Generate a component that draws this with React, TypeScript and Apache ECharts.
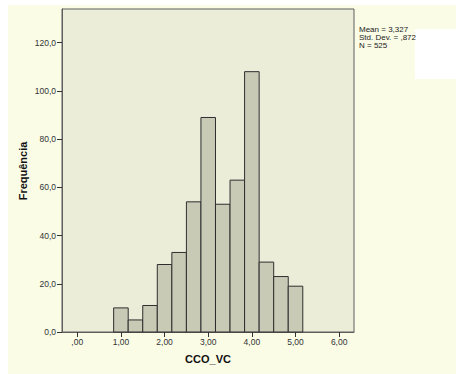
import React, { useEffect, useRef } from "react";
import * as echarts from "echarts";

// Histogram bins (width 1/3): start, end, frequency
const binStarts = [0.8333, 1.1667, 1.5, 1.8333, 2.1667, 2.5, 2.8333, 3.1667, 3.5, 3.8333, 4.1667, 4.5, 4.8333];
const binEnds = [1.1667, 1.5, 1.8333, 2.1667, 2.5, 2.8333, 3.1667, 3.5, 3.8333, 4.1667, 4.5, 4.8333, 5.1667];
const frequencies = [10, 5, 11, 28, 33, 54, 89, 53, 63, 108, 29, 23, 19];

const xTicks = [0, 1, 2, 3, 4, 5, 6];
const yTicks = [0, 20, 40, 60, 80, 100, 120];

const statsLines = ["Mean = 3,327", "Std. Dev. = ,872", "N = 525"];
const xTitle = "CCO_VC";
const yTitle = "Frequência";

const FONT = "'Liberation Sans', Arial, sans-serif";

export default function App() {
  const ref = useRef<HTMLDivElement>(null);

  useEffect(() => {
    if (!ref.current) return;
    const chart = echarts.init(ref.current, null, { renderer: "svg" });
    const data = binStarts.map((s, i) => [s, binEnds[i], frequencies[i]]);
    chart.setOption({
      animation: false,
      backgroundColor: "#FAFCE6",
      grid: {
        left: 62,
        top: 9,
        right: 102,
        bottom: 42,
        show: true,
        backgroundColor: "#EBEDD9",
        borderColor: "#5E5E5E",
        borderWidth: 1,
      },
      xAxis: {
        type: "value",
        min: -0.35,
        max: 6.34,
        splitLine: { show: false },
        axisLine: { show: true, onZero: false, lineStyle: { color: "#5E5E5E", width: 1 } },
        axisTick: {
          show: true,
          customValues: xTicks,
          length: 5,
          inside: false,
          lineStyle: { color: "#333" },
        },
        axisLabel: {
          customValues: xTicks,
          margin: 5,
          fontSize: 8.5,
          fontFamily: FONT,
          color: "#333",
          formatter: (v: number) => (v === 0 ? ",00" : v.toFixed(2).replace(".", ",")),
        },
      },
      yAxis: {
        type: "value",
        min: 0,
        max: 134,
        splitLine: { show: false },
        axisLine: { show: true, onZero: false, lineStyle: { color: "#5E5E5E", width: 1 } },
        axisTick: {
          show: true,
          customValues: yTicks,
          length: 5,
          lineStyle: { color: "#333" },
        },
        axisLabel: {
          customValues: yTicks,
          margin: 6,
          fontSize: 8.5,
          fontFamily: FONT,
          color: "#333",
          formatter: (v: number) => v.toFixed(1).replace(".", ","),
        },
      },
      series: [
        {
          type: "custom",
          data,
          renderItem: (params: any, api: any) => {
            const p0 = api.coord([api.value(0), api.value(2)]);
            const p1 = api.coord([api.value(1), 0]);
            return {
              type: "rect",
              shape: { x: p0[0], y: p0[1], width: p1[0] - p0[0], height: p1[1] - p0[1] },
              style: { fill: "#C8CAB6", stroke: "#2E2E2E", lineWidth: 1 },
            };
          },
        },
      ],
      graphic: [
        { type: "rect", shape: { x: 0, y: 0, width: 456, height: 5 }, style: { fill: "#FFFFFF" }, silent: true },
        { type: "rect", shape: { x: 0, y: 0, width: 8, height: 374 }, style: { fill: "#FFFFFF" }, silent: true },
        { type: "rect", shape: { x: 415, y: 29, width: 41, height: 50 }, style: { fill: "#FFFFFF" }, silent: true },
        {
          type: "text",
          x: 359,
          y: 25,
          style: {
            text: statsLines.join("\n"),
            font: `8px ${FONT}`,
            lineHeight: 8,
            fill: "#222",
          },
        },
        {
          type: "text",
          x: 208,
          y: 359,
          style: {
            text: xTitle,
            font: `bold 11px ${FONT}`,
            fill: "#111",
            align: "center",
            verticalAlign: "middle",
          },
        },
        {
          type: "text",
          x: 23,
          y: 171,
          rotation: Math.PI / 2,
          style: {
            text: yTitle,
            font: `bold 11px ${FONT}`,
            fill: "#111",
            align: "center",
            verticalAlign: "middle",
          },
        },
      ],
    });
    return () => chart.dispose();
  }, []);

  return (
    <div
      ref={ref}
      style={{ position: "fixed", left: 0, top: 0, width: 456, height: 374 }}
    />
  );
}
